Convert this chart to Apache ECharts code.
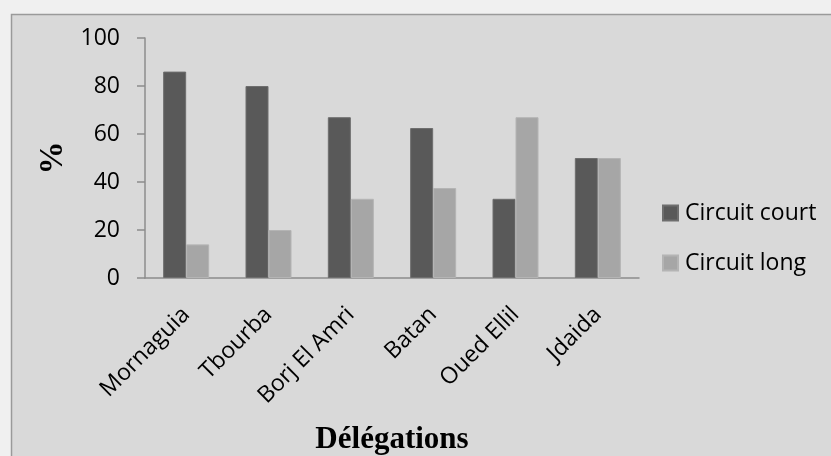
<!DOCTYPE html>
<html>
<head>
<meta charset="utf-8">
<script src="https://cdn.jsdelivr.net/npm/echarts@6/dist/echarts.min.js"></script>
<style>
  html, body { margin: 0; padding: 0; background: #f0f0f0; }
  #chart { width: 831px; height: 456px; }
</style>
</head>
<body>
<div id="chart"></div>
<script>
const categories = ['Mornaguia', 'Tbourba', 'Borj El Amri', 'Batan', 'Oued Ellil', 'Jdaida'];
const circuitCourt = [86, 80, 67, 62.5, 33, 50];
const circuitLong = [14, 20, 33, 37.5, 67, 50];
const yTicks = { min: 0, max: 100, interval: 20 };
const seriesNames = ['Circuit court', 'Circuit long'];

const chart = echarts.init(document.getElementById('chart'), null, { renderer: 'canvas' });
const labelFont = { fontFamily: 'Open Sans', fontSize: 23, color: '#000' };

chart.setOption({
  backgroundColor: 'transparent',
  animation: false,
  graphic: [{
    type: 'rect',
    shape: { x: 11.5, y: 14.5, width: 900, height: 600 },
    style: { fill: '#d9d9d9', stroke: '#9a9a9a', lineWidth: 1.5 },
    z: -10,
    silent: true
  }],
  grid: { left: 145, top: 38, right: 192, bottom: 178, containLabel: false, outerBoundsMode: 'none' },
  legend: {
    orient: 'vertical',
    left: 662,
    top: 201,
    padding: 0,
    itemWidth: 15,
    itemHeight: 15,
    itemGap: 26,
    icon: 'rect',
    textStyle: Object.assign({}, labelFont, { lineHeight: 24, padding: [0, 0, 0, 2] }),
    data: seriesNames
  },
  xAxis: {
    type: 'category',
    data: categories,
    name: 'Délégations',
    nameLocation: 'middle',
    nameGap: 146,
    nameTextStyle: { fontFamily: 'Liberation Serif', fontWeight: 'bold', fontSize: 31, color: '#000', verticalAlign: 'top' },
    axisLine: { lineStyle: { color: '#8c8c8c', width: 1.5 } },
    axisTick: { show: false },
    axisLabel: Object.assign({}, labelFont, { rotate: 45, margin: 33, interval: 0 }),
    splitLine: { show: false }
  },
  yAxis: {
    type: 'value',
    min: yTicks.min,
    max: yTicks.max,
    interval: yTicks.interval,
    name: '%',
    nameLocation: 'middle',
    nameGap: 73,
    nameTextStyle: { fontFamily: 'Liberation Serif', fontWeight: 'bold', fontSize: 33, color: '#000' },
    axisLine: { show: true, lineStyle: { color: '#8c8c8c', width: 1.5 } },
    axisTick: { show: true, length: 8, lineStyle: { color: '#8c8c8c', width: 1.5 } },
    axisLabel: Object.assign({}, labelFont, { margin: 25 }),
    splitLine: { show: false }
  },
  series: [
    {
      name: seriesNames[0],
      type: 'bar',
      data: circuitCourt,
      barWidth: 23,
      barGap: '0%',
      itemStyle: { color: '#595959', borderColor: '#6e6e6e', borderWidth: 1 }
    },
    {
      name: seriesNames[1],
      type: 'bar',
      data: circuitLong,
      barWidth: 23,
      barGap: '0%',
      itemStyle: { color: '#a6a6a6', borderColor: '#b4b4b4', borderWidth: 1 }
    }
  ]
});
</script>
</body>
</html>
